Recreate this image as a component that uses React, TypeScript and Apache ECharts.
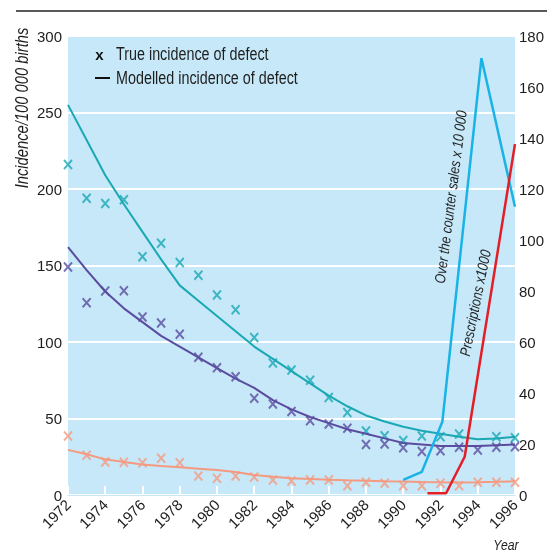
import React, { useEffect, useRef } from "react";
import * as echarts from "echarts";

const years = [
  1972, 1973, 1974, 1975, 1976, 1977, 1978, 1979, 1980, 1981, 1982, 1983,
  1984, 1985, 1986, 1987, 1988, 1989, 1990, 1991, 1992, 1993, 1994, 1995, 1996,
];

// observed ("true") incidence, per 100 000 births (null = no mark)
const tealTrue: (number | null)[] = [216, 194, 190.6, 193, 155.8, 164.5, 152, 143.7, 130.7, 121, 103, 86.3, 81.7, 75, 63.8, 54, 41.8, 38.8, 35.7, 38.6, 38.1, 39.9, null, 38.1, 37.5];
const purpleTrue = [149, 125.7, 133.3, 133.5, 116.3, 112.4, 105, 90, 83.2, 77.3, 63.2, 59.5, 54.5, 48.6, 46.4, 43.6, 33, 33.3, 30.9, 28.5, 29, 31.2, 29.4, 31.2, 31.6];
const salmonTrue = [38.6, 26, 21.5, 21.4, 21.1, 24, 21.1, 12.4, 10.9, 12.4, 11.8, 9.8, 9.2, 9.8, 9.8, 6.1, 8.3, 7.6, 6.1, 6.1, 7.6, 6.1, 8.3, 8.3, 8.3];

// modelled incidence
const tealModel = [255, 232, 209, 190, 172, 154, 137, 127, 117, 107, 97, 89, 81, 73, 65, 58, 52, 48, 44.6, 42, 40, 38, 36.5, 37, 38];
const purpleModel = [162, 147, 133, 122, 113, 104, 97, 90, 83, 76, 70, 62, 56, 51, 47, 43, 40, 37, 34, 33, 32, 32, 32, 32.5, 33];
const salmonModel = [29.5, 26.6, 23.3, 21.6, 20, 19, 18.1, 17.2, 16.3, 15, 13, 12, 11, 10.5, 10, 9.6, 9.3, 9, 8.8, 8.5, 8.3, 8.2, 8.3, 8.6, 9];

// right axis series (year, value)
const otcYears = [1990, 1991, 1992.1, 1994.2, 1996];
const otcSales = [5.9, 9.1, 28.7, 171.3, 113];
const rxYears = [1991.3, 1992.3, 1993.3, 1996];
const prescriptions = [0.7, 0.7, 15, 137.6];

const xTicks = { min: 1972, max: 1996, interval: 2 };
const leftTicks = { min: 0, max: 300, interval: 50 };
const rightTicks = { min: 0, max: 180, interval: 20 };

const FONT = "'Liberation Sans', Arial, sans-serif";
const NARROW = 0.82;
const TEAL = "#19a8b4";
const PURPLE = "#5a4c9f";
const SALMON = "#f59a80";
const SKY = "#19b3e6";
const RED = "#e41e26";
const BG = "#c6e8f8";
const TXT = "#1e1e1e";

const X_SYMBOL = "path://M0,0L10,12M10,0L0,12";

const pairs = (xs: number[], ys: (number | null)[]) =>
  xs.map((x, i) => [x, ys[i]]).filter((p) => p[1] !== null);

export default function App() {
  const ref = useRef<HTMLDivElement>(null);
  useEffect(() => {
    if (!ref.current) return;
    const chart = echarts.init(ref.current, null, { renderer: "svg" });
    const scatter = (name: string, data: any[], color: string) => ({
      name,
      type: "scatter",
      data,
      symbol: X_SYMBOL,
      symbolSize: [8, 9],
      itemStyle: { color, borderColor: color, borderWidth: 2 },
      z: 3,
    });
    const line = (name: string, data: any[], color: string, width: number, yAxisIndex = 0) => ({
      name,
      type: "line",
      data,
      yAxisIndex,
      symbol: "none",
      lineStyle: { color, width },
      z: 4,
    });
    const narrowText = (text: string, x: number, y: number, size: number, extra: any = {}, rotDeg = 0) => ({
      type: "text",
      x,
      y,
      rotation: (rotDeg * Math.PI) / 180,
      scaleX: NARROW,
      z: 10,
      style: {
        text,
        fontFamily: FONT,
        fontSize: size,
        fill: TXT,
        ...extra,
      },
    });
    chart.setOption({
      animation: false,
      grid: {
        left: 68,
        top: 36,
        right: 32,
        bottom: 58,
        show: true,
        backgroundColor: BG,
        borderWidth: 0,
      },
      xAxis: {
        type: "value",
        ...xTicks,
        axisLine: { show: true, onZero: false, lineStyle: { color: BG, width: 1 } },
        axisTick: {
          show: true,
          inside: true,
          length: 9,
          lineStyle: { color: "#ffffff", width: 2 },
        },
        axisLabel: {
          rotate: 45,
          margin: 7,
          fontFamily: FONT,
          fontSize: 15,
          color: TXT,
          formatter: (v: number) => String(v),
        },
        splitLine: { show: false },
      },
      yAxis: [
        {
          type: "value",
          ...leftTicks,
          axisLine: { show: false },
          axisTick: { show: false },
          axisLabel: { fontFamily: FONT, fontSize: 15, color: TXT, margin: 6, padding: [8, 0, 0, 0] },
          splitLine: { show: true, lineStyle: { color: "#ffffff", width: 2 } },
        },
        {
          type: "value",
          ...rightTicks,
          position: "right",
          axisLine: { show: false },
          axisTick: { show: false },
          axisLabel: { fontFamily: FONT, fontSize: 15, color: TXT, margin: 4, padding: [6, 0, 0, 0] },
          splitLine: { show: false },
        },
      ],
      series: [
        line("Modelled teal", pairs(years, tealModel), TEAL, 2),
        line("Modelled purple", pairs(years, purpleModel), PURPLE, 2),
        line("Modelled salmon", pairs(years, salmonModel), SALMON, 2),
        scatter("True teal", pairs(years, tealTrue), TEAL),
        scatter("True purple", pairs(years, purpleTrue), PURPLE),
        scatter("True salmon", pairs(years, salmonTrue), SALMON),
        line("Over the counter sales x 10 000", pairs(otcYears, otcSales), SKY, 2.5, 1),
        line("Prescriptions x1000", pairs(rxYears, prescriptions), RED, 2.5, 1),
      ],
      graphic: [
        { type: "line", shape: { x1: 16, y1: 11, x2: 547, y2: 11 }, style: { stroke: "#222", lineWidth: 1.5 } },
        narrowText("Incidence/100 000 births", 21, 108, 18, { fontStyle: "italic", align: "center", verticalAlign: "middle" }, 90),
        {
          type: "text",
          x: 99.5,
          y: 54,
          style: { text: "x", fontFamily: FONT, fontWeight: "bold", fontSize: 15, fill: "#111", align: "center", verticalAlign: "middle" },
        },
        { type: "line", shape: { x1: 95, y1: 78, x2: 110, y2: 78 }, style: { stroke: "#111", lineWidth: 2 } },
        narrowText("True incidence of defect", 116, 54, 17.5, { verticalAlign: "middle" }),
        narrowText("Modelled incidence of defect", 116, 78, 17.5, { verticalAlign: "middle" }),
        narrowText("Over the counter sales x 10 000", 451, 197, 15, { fontStyle: "italic", align: "center", verticalAlign: "middle" }, 82.7),
        narrowText("Prescriptions x1000", 475.5, 303, 15, { fontStyle: "italic", align: "center", verticalAlign: "middle" }, 78.6),
        narrowText("Year", 506, 545, 15, { fontStyle: "italic", align: "center", verticalAlign: "middle" }),
      ],
    });
    return () => chart.dispose();
  }, []);
  return <div ref={ref} style={{ position: "fixed", left: 0, top: 0, width: 547, height: 553 }} />;
}
